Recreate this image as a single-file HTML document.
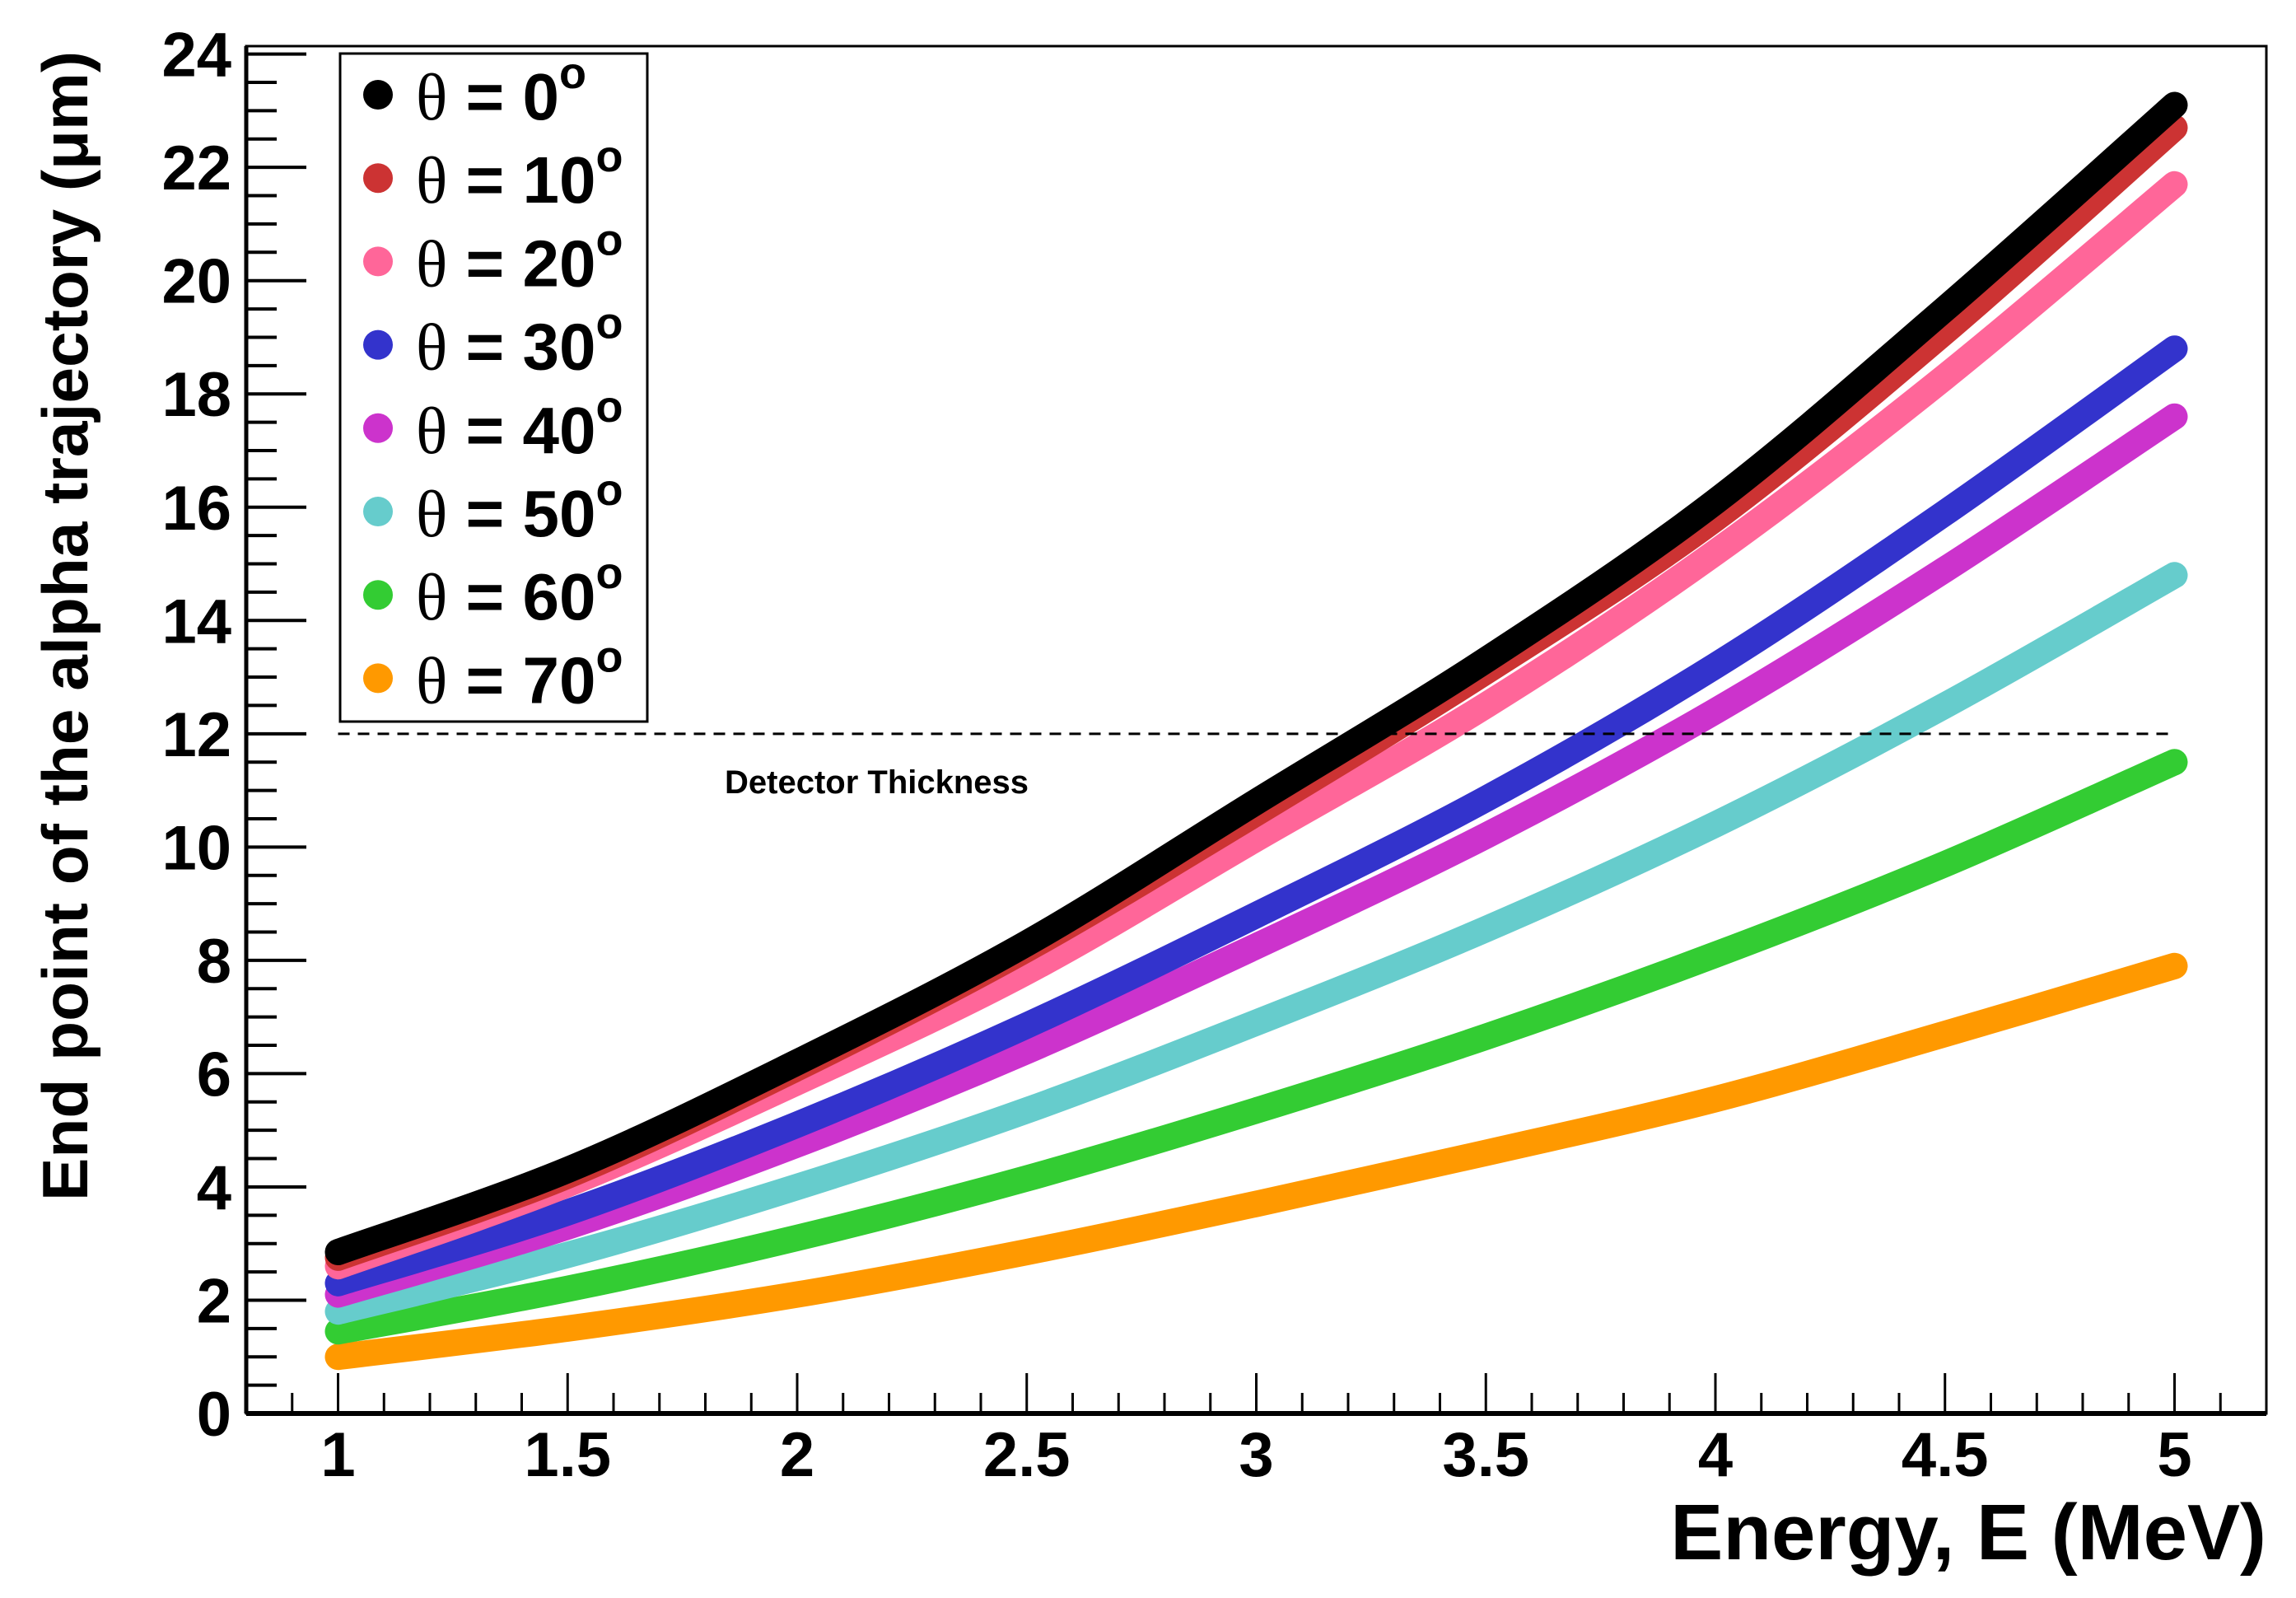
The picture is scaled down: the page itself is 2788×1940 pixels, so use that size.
<!DOCTYPE html>
<html><head><meta charset="utf-8"><style>
html,body{margin:0;padding:0;background:#fff;}
svg{display:block;font-family:"Liberation Sans",sans-serif;}
</style></head><body>
<svg id="chart" width="2788" height="1940" viewBox="0 0 2788 1940" xmlns="http://www.w3.org/2000/svg"></svg>
<script>
const energies=[1,1.5,2,2.5,3,3.5,4,4.5,5];
const angles=[0,10,20,30,40,50,60,70];
const colors=["#000000","#cc3333","#ff6699","#3333cc","#cc33cc","#66cccc","#33cc33","#ff9900"];
const s0=[2.85,4.3,6.2,8.3,10.8,13.3,16.1,19.5,23.1];
const s10=[2.75,4.2,6.1,8.2,10.6,13.1,15.8,19.1,22.7];
const s20=[2.6,4.05,5.85,7.8,10.15,12.5,15.2,18.3,21.7];
const s30=[2.3,3.55,5.1,6.85,8.8,10.85,13.2,15.9,18.8];
const s40=[2.1,3.3,4.75,6.4,8.25,10.2,12.4,14.9,17.6];
const s50=[1.8,2.8,4.0,5.35,6.9,8.55,10.4,12.5,14.8];
const s60=[1.45,2.2,3.1,4.15,5.35,6.65,8.1,9.7,11.5];
const s70=[1.0,1.5,2.1,2.85,3.7,4.6,5.55,6.7,7.9];
const series=[s0,s10,s20,s30,s40,s50,s60,s70];
const yTickLabels=[0,2,4,6,8,10,12,14,16,18,20,22,24];
const xTickLabels=[1,1.5,2,2.5,3,3.5,4,4.5,5];
const thickness=12;

const NS="http://www.w3.org/2000/svg";
const svg=document.getElementById('chart');
const X0=299,X1=2752,Y0=1716,Y1=56;
const xmin=0.8,xmax=5.2,ymin=0,ymax=24.14;
const sx=v=>X0+(v-xmin)/(xmax-xmin)*(X1-X0);
const sy=v=>Y0-(v-ymin)/(ymax-ymin)*(Y0-Y1);
function mk(tag,attrs,parent){const e=document.createElementNS(NS,tag);for(const k in attrs)e.setAttribute(k,attrs[k]);(parent||svg).appendChild(e);return e;}

const frame=mk('rect',{x:X0,y:Y1,width:X1-X0,height:Y0-Y1,fill:'none',stroke:'#000','stroke-width':3});


mk('line',{x1:X0,y1:Y0,x2:X1,y2:Y0,stroke:'#000','stroke-width':6});
mk('line',{x1:X0,y1:Y1,x2:X0,y2:Y0,stroke:'#000','stroke-width':5});

for(let v=0;v<=24.001;v+=0.5){
  const major=Math.abs(v/2-Math.round(v/2))<1e-6;
  const t=mk('line',{x1:X0,x2:X0+(major?73:37),y1:sy(v),y2:sy(v),stroke:'#000','stroke-width':4});
  
  
}
yTickLabels.forEach(v=>{
  const t=mk('text',{x:281,y:sy(v)+27,'text-anchor':'end','font-size':76,'font-weight':'bold'});
  t.textContent=v;
  
  
});
for(let i=0;i<=44;i++){
  const v=0.8+i*0.1;
  const major=Math.abs(v*2-Math.round(v*2))<1e-6;
  const t=mk('line',{x1:sx(v),x2:sx(v),y1:Y0,y2:Y0-(major?49:25),stroke:'#000','stroke-width':3});
  
  
}
xTickLabels.forEach(v=>{
  const t=mk('text',{x:sx(v),y:1792,'text-anchor':'middle','font-size':76,'font-weight':'bold'});
  t.textContent=v;
  
  
});
const xt=mk('text',{x:2752,y:1893,'text-anchor':'end','font-size':96,'font-weight':'bold'});
xt.textContent='Energy, E (MeV)';


const yt=mk('text',{x:0,y:0,'text-anchor':'end','font-size':78,'font-weight':'bold',transform:'translate(106,62) rotate(-90)',textLength:1396,lengthAdjust:'spacingAndGlyphs'});
yt.textContent='End point of the alpha trajectory (μm)';



function pathFor(ys){
  const p=energies.map((e,i)=>[sx(e),sy(ys[i])]);
  let d=`M${p[0][0]},${p[0][1]}`;
  for(let i=0;i<p.length-1;i++){
    const a=p[Math.max(0,i-1)],b=p[i],c=p[i+1],n=p[Math.min(p.length-1,i+2)];
    const c1=[b[0]+(c[0]-a[0])/6,b[1]+(c[1]-a[1])/6];
    const c2=[c[0]-(n[0]-b[0])/6,c[1]-(n[1]-b[1])/6];
    d+=` C${c1[0]},${c1[1]} ${c2[0]},${c2[1]} ${c[0]},${c[1]}`;
  }
  return d;
}
for(let k=series.length-1;k>=0;k--){
  const p=mk('path',{d:pathFor(series[k]),fill:'none',stroke:colors[k],'stroke-width':32,'stroke-linecap':'round','stroke-linejoin':'round'});
  
  
}

const dl=mk('line',{x1:sx(1),x2:sx(5),y1:sy(thickness),y2:sy(thickness),stroke:'#000','stroke-width':3,'stroke-dasharray':'14 10'});


const dt=mk('text',{x:880,y:963,'font-size':40,'font-weight':'bold'});
dt.textContent='Detector Thickness';



const lg=mk('g',{});


mk('rect',{x:413,y:65,width:373,height:811,fill:'#fff',stroke:'#000','stroke-width':3},lg);
angles.forEach((a,k)=>{
  const cy=115+k*101.2;
  const g=mk('g',{},lg);
  
  
  mk('circle',{cx:459,cy:cy,r:18,fill:colors[k]},g);
  const t=mk('text',{x:505,y:cy+30,'font-size':80,'font-weight':'bold'},g);
  const th=mk('tspan',{'font-family':'"Liberation Serif",serif','font-weight':'normal'},t);
  th.textContent='θ';
  const r=mk('tspan',{},t);
  r.textContent=' = '+a;
  const o=mk('tspan',{dy:-38,'font-size':54},t);
  o.textContent='o';
});
</script>
</body></html>
